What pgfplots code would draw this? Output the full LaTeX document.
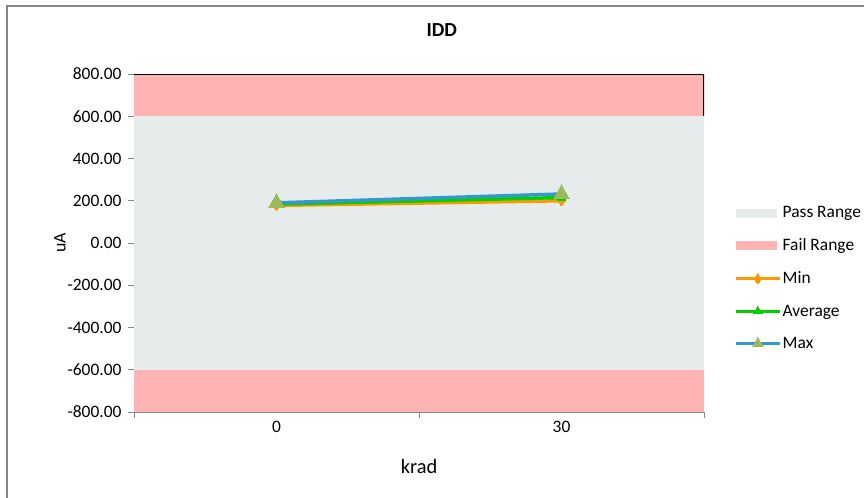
\documentclass[border=0pt]{standalone}
\usepackage{fontspec}
\setmainfont{Carlito}
\usepackage{pgfplots}
\pgfplotsset{compat=1.18}
\definecolor{passc}{RGB}{230,235,235}
\definecolor{failc}{RGB}{255,179,179}
\definecolor{minc}{RGB}{255,153,0}
\definecolor{avgc}{RGB}{0,210,0}
\definecolor{maxc}{RGB}{51,153,204}
\definecolor{triac}{RGB}{155,187,89}
\definecolor{axisgray}{RGB}{134,134,134}
\pgfplotsset{
  arealeg/.style={legend image code/.code={\fill[##1] (0bp,-4.5bp) rectangle (41bp,4.5bp);}},
  lineleg/.style={legend image code/.code={\draw[##1, mark repeat=2, mark phase=2] plot coordinates {(0bp,0bp) (22bp,0bp) (44bp,0bp)};}},
  maxleg/.style={legend image code/.code={\draw[##1, mark repeat=2, mark phase=2, mark size=6bp] plot coordinates {(0bp,0bp) (22bp,0bp) (44bp,0bp)};}},
}

\begin{document}
\begin{tikzpicture}
\path[use as bounding box] (0,0) rectangle (864bp,-498bp);
\draw[axisgray, line width=2bp] (7bp,-498bp) -- (7bp,-6bp) -- (864bp,-6bp);
\begin{axis}[
  at={(134bp,-412bp)}, anchor=south west,
  scale only axis, width=570bp, height=338bp,
  xmin=0, xmax=2, ymin=-800, ymax=800,
  axis x line*=bottom, axis y line*=left,
  axis line style={axisgray, line width=1bp, -},
  tick style={axisgray, line width=1bp},
  tick align=outside,
  xtick={0.5,1.5}, xticklabels={0,30},
  minor xtick={0,1,2},
  major x tick style={draw=none},
  minor tick length=6bp, major tick length=6bp,
  ytick={-800,-600,...,800},
  yticklabels={-800.00,-600.00,-400.00,-200.00,0.00,200.00,400.00,600.00,800.00},
  ticklabel style={font=\fontsize{17.5}{20}\selectfont, text=black},
  y tick label style={xshift=-3bp},
  xlabel={krad}, ylabel={uA}, title={\textbf{IDD}},
  xlabel style={font=\fontsize{20.5}{24}\selectfont, at={(axis description cs:0.5,-0.16)}, anchor=center},
  ylabel style={font=\fontsize{18}{22}\selectfont, at={(axis description cs:-0.13,0.5)}, anchor=center},
  title style={font=\fontsize{20}{24}\selectfont, at={(axis description cs:0.54,1.112)}, anchor=center},
  legend style={at={(axis description cs:1.0526,0.611)}, anchor=north west, draw=none, fill=none,
    font=\fontsize{17.5}{20}\selectfont, row sep=17.5bp, inner sep=0pt, nodes={inner sep=1bp}},
  legend cell align=left,
]
\addplot[fill=passc, draw=none, arealeg]
  coordinates {(0,-600) (2,-600) (2,600) (0,600)} -- cycle;
\addlegendentry{Pass Range}
\addplot[fill=failc, draw=none, arealeg]
  coordinates {(0,600) (2,600) (2,800) (0,800)} -- cycle;
\addlegendentry{Fail Range}
\addplot[fill=failc, draw=none, forget plot]
  coordinates {(0,-800) (2,-800) (2,-600) (0,-600)} -- cycle;
\addplot[black, line width=1.5bp, forget plot]
  coordinates {(0,800) (2,800) (2,600)};
\addplot[minc, line width=3.5bp, mark=diamond*, mark size=5bp, mark options={fill=minc, draw=minc, line width=0pt}, lineleg]
  coordinates {(0.5,178) (1.5,200)};
\addlegendentry{Min}
\addplot[avgc, line width=3.5bp, mark=triangle*, mark size=5bp, mark options={fill=avgc, draw=avgc, line width=0pt}, lineleg]
  coordinates {(0.5,184) (1.5,215)};
\addlegendentry{Average}
\addplot[maxc, line width=3.5bp, mark=triangle*, mark size=9bp, mark options={fill=triac, draw=triac, line width=0pt}, maxleg]
  coordinates {(0.5,190) (1.5,232)};
\addlegendentry{Max}
\end{axis}
\end{tikzpicture}
\end{document}
